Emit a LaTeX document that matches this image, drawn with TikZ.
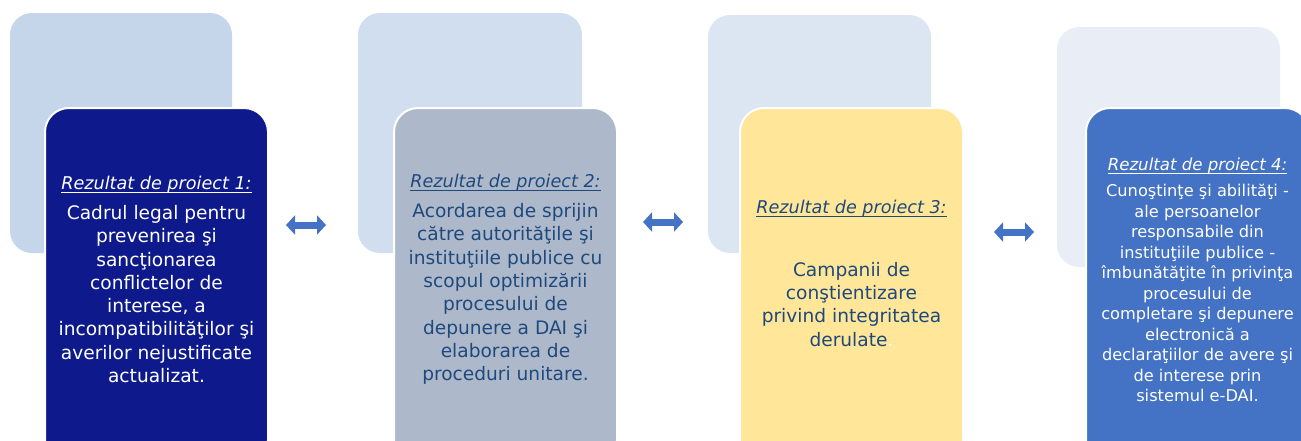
\documentclass[tikz,border=0pt]{standalone}
\usepackage{fontspec}
\setmainfont{DejaVu Sans}
\usetikzlibrary{arrows.meta}

\definecolor{fundalA}{HTML}{C5D5EA}
\definecolor{fundalB}{HTML}{D0DEEF}
\definecolor{fundalC}{HTML}{DCE5F2}
\definecolor{fundalD}{HTML}{E9EEF6}
\definecolor{rezA}{HTML}{0E1A8C}
\definecolor{rezB}{HTML}{ADB9CA}
\definecolor{rezC}{HTML}{FFE699}
\definecolor{rezD}{HTML}{4472C4}
\definecolor{textAlbastru}{HTML}{1F497D}

% titlul subliniat din fiecare caseta
\newcommand\rezultat[2]{{\fontsize{#1}{#1}\selectfont\underline{\smash{\textit{Rezultat de proiect #2:}}}}}

\begin{document}
\begin{tikzpicture}[
		% 1 unitate = 1 pixel din imaginea originala
		x=0.5pt, y=-0.5pt,
		fundal/.style={rounded corners=11pt},
		caseta/.style={draw=white, line width=1pt, rounded corners=12pt,
			minimum width=111.5pt, minimum height=178pt, inner sep=2pt,
			align=center, font={\fontsize{9.3}{11.65}\selectfont}},
		sageata/.style={rezD, line width=3.5pt,
			{Triangle[width=9.5pt,length=4.5pt]}-{Triangle[width=9.5pt,length=4.5pt]}}
		]
		\useasboundingbox (0,0) rectangle (1301,440);
		\clip (0,0) rectangle (1301,440);
		\fill[fundal, fundalA] (10,13) rectangle (232,253);
		\fill[fundal, fundalB] (358,13) rectangle (582,253);
		\fill[fundal, fundalC] (708,15) rectangle (931,253);
		\fill[fundal, fundalD] (1057,27) rectangle (1280,267);

		\node[caseta, fill=rezA, text=white] (rez1) at (156.5,286) {\rezultat{8.8}{1}\\[3.5pt]
			Cadrul legal pentru\\ prevenirea şi\\ sancţionarea\\ conflictelor de\\
			interese, a\\ incompatibilităţilor şi\\ averilor nejustificate\\ actualizat.};
		\node[caseta, fill=rezB, text=textAlbastru] (rez2) at (505.5,286) {\rezultat{8.8}{2}\\[3.5pt]
			Acordarea de sprijin\\ către autorităţile şi\\ instituţiile publice cu\\ scopul optimizării\\
			procesului de\\ depunere a DAI şi\\ elaborarea de\\ proceduri unitare.};
		\node[caseta, fill=rezC, text=textAlbastru] (rez3) at (851.5,286) {\rezultat{8.8}{3}\\[19.5pt]
			Campanii de\\ conştientizare\\ privind integritatea\\ derulate\textcolor{white}{.}\\[-5.65pt]\mbox{}};
		\node[caseta, fill=rezD, text=white, font={\fontsize{8.1}{10.25}\selectfont}] (rez4) at (1197.5,286) {\rezultat{8.3}{4}\\[3pt]
			Cunoştinţe şi abilităţi -\\ ale persoanelor\\ responsabile din\\ instituţiile publice -\\
			îmbunătăţite în privinţa\\ procesului de\\ completare şi depunere\\ electronică a\\
			declaraţiilor de avere şi\\ de interese prin\\ sistemul e-DAI.};

		\coordinate (s1a) at (286,225);
		\coordinate (s1b) at (326,225);
		\coordinate (s2a) at (643,222);
		\coordinate (s2b) at (683,222);
		\coordinate (s3a) at (994,232);
		\coordinate (s3b) at (1034,232);
		\draw[sageata] (s1a) -- (s1b);
		\draw[sageata] (s2a) -- (s2b);
		\draw[sageata] (s3a) -- (s3b);
	\end{tikzpicture}
\end{document}
